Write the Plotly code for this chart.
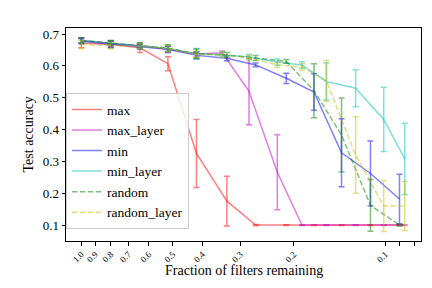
import plotly.graph_objects as go
import math

# x positions (fraction of filters remaining)
x_global = [1.0, 0.80, 0.642, 0.519, 0.418, 0.332, 0.267, 0.2117, 0.1716, 0.1393, 0.1119, 0.0898]
x_layer = [1.0, 0.80, 0.642, 0.519, 0.418, 0.3437, 0.2808, 0.2266, 0.188, 0.1563, 0.1252, 0.1012, 0.0863]

max_vals = [0.672, 0.667, 0.657, 0.607, 0.325, 0.175, 0.1, 0.1, 0.1, 0.1, 0.1, 0.1]
max_err = [0.015, 0.010, 0.015, 0.022, 0.107, 0.078, 0.002, 0.001, 0.001, 0.001, 0.001, 0.001]

max_layer_vals = [0.680, 0.670, 0.663, 0.652, 0.637, 0.641, 0.520, 0.266, 0.1, 0.1, 0.1, 0.1, 0.1]
max_layer_err = [0.008, 0.008, 0.006, 0.010, 0.008, 0.006, 0.105, 0.118, 0.001, 0.001, 0.001, 0.001, 0.001]

min_vals = [0.677, 0.668, 0.660, 0.652, 0.633, 0.624, 0.603, 0.561, 0.518, 0.327, 0.262, 0.182]
min_err = [0.008, 0.010, 0.008, 0.010, 0.010, 0.008, 0.006, 0.016, 0.057, 0.107, 0.102, 0.078]

min_layer_vals = [0.680, 0.672, 0.664, 0.655, 0.638, 0.635, 0.628, 0.612, 0.603, 0.551, 0.530, 0.432, 0.308]
min_layer_err = [0.008, 0.008, 0.008, 0.010, 0.017, 0.008, 0.008, 0.010, 0.010, 0.058, 0.058, 0.101, 0.112]

random_vals = [0.680, 0.672, 0.664, 0.656, 0.638, 0.634, 0.625, 0.614, 0.522, 0.383, 0.162, 0.1]
random_err = [0.008, 0.008, 0.008, 0.010, 0.015, 0.008, 0.008, 0.006, 0.085, 0.116, 0.081, 0.003]

random_layer_vals = [0.667, 0.664, 0.662, 0.654, 0.636, 0.636, 0.625, 0.603, 0.597, 0.553, 0.320, 0.160, 0.160]
random_layer_err = [0.012, 0.010, 0.008, 0.010, 0.010, 0.008, 0.008, 0.008, 0.010, 0.064, 0.120, 0.080, 0.077]

tick_vals = [1.0, 0.9, 0.8, 0.7, 0.6, 0.5, 0.4, 0.3, 0.2, 0.1, 0.09, 0.08]
tick_text = ["1.0", "0.9", "0.8", "0.7", "0.6", "0.5", "0.4", "0.3", "0.2", "0.1", "", ""]

series = [
    ("max", x_global, max_vals, max_err, "rgba(255,0,0,0.5)", "solid"),
    ("max_layer", x_layer, max_layer_vals, max_layer_err, "rgba(191,0,191,0.5)", "solid"),
    ("min", x_global, min_vals, min_err, "rgba(0,0,255,0.5)", "solid"),
    ("min_layer", x_layer, min_layer_vals, min_layer_err, "rgba(0,191,191,0.5)", "solid"),
    ("random", x_global, random_vals, random_err, "rgba(0,128,0,0.5)", "5.5px,2.4px"),
    ("random_layer", x_layer, random_layer_vals, random_layer_err, "rgba(191,191,0,0.5)", "5.5px,2.4px"),
]

FONT = "'Liberation Serif', 'Times New Roman', 'DejaVu Serif', serif"
fig = go.Figure()
for name, xs, ys, es, col, dash in series:
    fig.add_trace(go.Scatter(
        x=xs, y=ys, name=name, mode="lines",
        line=dict(color=col, width=1.5, dash=dash),
        error_y=dict(type="data", array=es, visible=True, color=col, thickness=1.5, width=3),
    ))

fig.update_layout(
    width=432, height=288,
    margin=dict(l=58, r=19, t=20, b=55),
    paper_bgcolor="white", plot_bgcolor="white",
    font=dict(family=FONT, size=13, color="black"),
    showlegend=True,
    legend=dict(
        x=0.0, y=0.694, xanchor="left", yanchor="top",
        bgcolor="rgba(255,255,255,0.8)", bordercolor="#cccccc", borderwidth=1,
        font=dict(family=FONT, size=13.5), itemwidth=30, tracegroupgap=0,
    ),
    xaxis=dict(
        type="log", range=[math.log10(1.123), math.log10(0.0763)],
        tickvals=tick_vals, ticktext=tick_text, tickangle=-45,
        tickfont=dict(family=FONT, size=9),
        ticks="outside", ticklen=3.5, tickwidth=0.8, tickcolor="black",
        showline=True, linecolor="black", linewidth=1, mirror=True,
        showgrid=False, zeroline=False,
    ),
    yaxis=dict(
        range=[0.05, 0.719],
        tickvals=[0.1, 0.2, 0.3, 0.4, 0.5, 0.6, 0.7],
        ticktext=["0.1", "0.2", "0.3", "0.4", "0.5", "0.6", "0.7"],
        tickfont=dict(family=FONT, size=13),
        ticks="outside", ticklen=3.5, tickwidth=0.8, tickcolor="black",
        showline=True, linecolor="black", linewidth=1, mirror=True,
        showgrid=False, zeroline=False,
    ),
    annotations=[
        dict(text="Fraction of filters remaining", xref="paper", yref="paper",
             x=0.5, y=0, xanchor="center", yanchor="middle", yshift=-29,
             showarrow=False, font=dict(family=FONT, size=14)),
        dict(text="Test accuracy", xref="paper", yref="paper",
             x=0, y=0.5, xanchor="center", yanchor="middle", xshift=-38,
             textangle=-90, showarrow=False, font=dict(family=FONT, size=14)),
    ],
)

fig.write_html("out.html")
